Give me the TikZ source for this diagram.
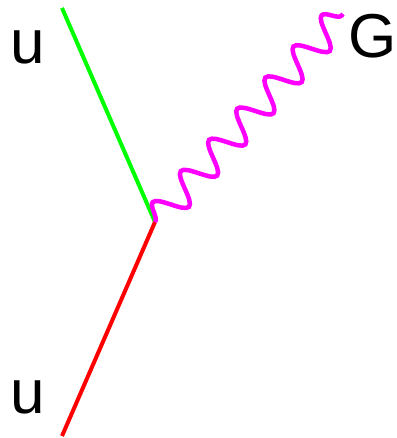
\documentclass[tikz,border=0pt]{standalone}
\usepackage{fontspec}
\setmainfont{Liberation Sans}
\usetikzlibrary{decorations.pathmorphing}
\definecolor{gmag}{RGB}{255,0,255}
\definecolor{qgreen}{RGB}{0,255,0}
\definecolor{qred}{RGB}{255,0,0}
\begin{document}
\begin{tikzpicture}[x=1pt,y=-1pt,
  fermion/.style={line width=4pt},
  gluon/.style={line width=4.5pt, draw=gmag, decorate,
    decoration={snake, segment length=42pt, amplitude=15pt}},
  lbl/.style={font=\fontsize{62}{62}\selectfont, inner sep=0pt}]
\useasboundingbox (0,0) rectangle (396,438);
\coordinate (v) at (155,222);
\coordinate (q1) at (62,8);
\coordinate (q2) at (62,436);
\coordinate (g) at (343,14);
\draw[fermion, qgreen] (q1) -- (v);
\draw[fermion, qred] (v) -- (q2);
\draw[gluon] (v) -- (g);
\node[lbl] (u1) at (28,47) {u};
\node[lbl] (u2) at (28,397) {u};
\node[lbl] (G) at (373,36) {G};
\end{tikzpicture}
\end{document}
